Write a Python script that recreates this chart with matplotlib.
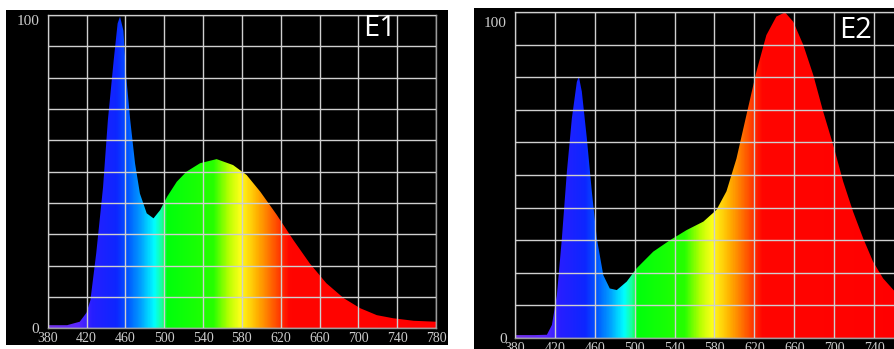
import matplotlib.pyplot as plt
import numpy as np
from matplotlib.colors import LinearSegmentedColormap
from matplotlib.patches import Rectangle
from matplotlib.transforms import ScaledTranslation

# wavelength (nm) / relative intensity
e1_wl = [380, 400, 413, 420, 424, 430, 437, 442, 448, 452, 454.5, 458, 461, 465, 470, 475, 482, 489,
         496, 503, 513, 523, 537, 554, 571, 585, 599, 616, 633, 650, 667, 685, 702, 719, 736, 757, 780]
e1_val = [1, 1, 2.1, 5, 9, 24, 45, 66.5, 85.6, 97.3, 99.5, 95, 80, 66.5, 52.6, 43, 36.7, 35.1,
          37.8, 42, 46.8, 50, 52.7, 54, 52.1, 48.9, 43.6, 36.2, 28.2, 20.7, 14.4, 9.6, 6.4, 4.2, 3.2, 2.4, 2.1]

e2_wl = [380, 400, 412, 417, 422, 427, 432, 437, 442, 444, 447, 452, 457, 462, 468.5, 475, 482, 492,
         502, 518.6, 535.4, 552, 568.8, 582, 592, 602, 612, 622, 632, 642, 650.7, 659, 669, 679,
         689, 699, 709, 719, 729, 739, 749, 761, 780]
e2_val = [0.9, 0.9, 1.0, 4, 13.2, 30.6, 51, 67.4, 78.6, 80.2, 75.6, 61.3, 45, 30.6, 19.3, 15.2, 14.7, 17.3,
          21.4, 26.5, 30, 33.1, 35.7, 39.3, 45, 55, 68.4, 81.7, 92.9, 98.6, 99.9, 97, 89.9, 80.7,
          69.4, 59.2, 48, 38.7, 30.6, 23.4, 18.3, 14.2, 8]

x_ticks = [380, 420, 460, 500, 540, 580, 620, 660, 700, 740, 780]
labels = ["E1", "E2"]

# colour of the light at each wavelength
stop_wl = [380, 410, 425, 450, 462, 476, 489, 497, 502, 550, 565, 578, 595, 610, 628, 780]
stop_rgb = [(0.45, 0.2, 0.9), (0.35, 0.15, 1.0), (0.15, 0.12, 1.0), (0.05, 0.15, 1.0), (0.0, 0.35, 1.0),
            (0.0, 0.65, 1.0), (0.0, 1.0, 1.0), (0.1, 1.0, 0.6), (0.0, 1.0, 0.05), (0.15, 1.0, 0.0),
            (0.7, 1.0, 0.0), (1.0, 1.0, 0.1), (1.0, 0.7, 0.0), (1.0, 0.4, 0.0), (1.0, 0.02, 0.0),
            (1.0, 0.0, 0.0)]
spec_cmap = LinearSegmentedColormap.from_list(
    "spec", [((w - 380) / 400, c) for w, c in zip(stop_wl, stop_rgb)])

W, H = 895, 349
fig = plt.figure(figsize=(W / 100, H / 100), dpi=100)
fig.patch.set_facecolor("white")

# black panels behind each chart (pixels from top-left)
for x0, y0, x1, y1 in [(6, 10, 448, 345), (474, 8, 900, 352)]:
    fig.patches.append(Rectangle((x0 / W, 1 - y1 / H), (x1 - x0) / W, (y1 - y0) / H,
                                 transform=fig.transFigure, facecolor="black", edgecolor="none", zorder=-5))


def draw_panel(rect, wl, val, label, label_xy, top_shift):
    l, t, r, b = rect
    ax = fig.add_axes([l / W, 1 - b / H, (r - l) / W, (b - t) / H])
    ax.set_facecolor("black")
    ax.set_xlim(380, 780)
    ax.set_ylim(0, 100)
    poly = ax.fill_between(wl, 0, val, facecolor="none", edgecolor="none")
    grad = np.linspace(380, 780, 800).reshape(1, -1)
    im = ax.imshow(grad, extent=[380, 780, 0, 100], aspect="auto", cmap=spec_cmap,
                   vmin=380, vmax=780, origin="lower", zorder=1)
    clip = poly.get_paths()[0]
    im.set_clip_path(clip, transform=ax.transData)
    ax.set_xticks(x_ticks)
    ax.set_yticks(np.arange(0, 101, 10))
    ax.set_yticklabels(["0"] + [""] * 9 + ["100"])
    ax.set_axisbelow(False)
    ax.grid(True, color="#cfcfcf", linewidth=1.0)
    for s in ax.spines.values():
        s.set_color("#9a9a9a")
        s.set_linewidth(1.0)
    ax.tick_params(length=0, pad=3, labelsize=10, labelcolor="#cccccc")
    ax.tick_params(axis="y", pad=6, labelsize=11)
    for t_ in ax.get_xticklabels() + ax.get_yticklabels():
        t_.set_fontfamily("Liberation Serif")
    # "100" sits a little below the top line in the original
    top = ax.get_yticklabels()[-1]
    top.set_transform(top.get_transform() + ScaledTranslation(0, -top_shift / 100, fig.dpi_scale_trans))
    fig.text(label_xy[0] / W, 1 - label_xy[1] / H, label, color="white", fontsize=21,
             family="Open Sans", ha="center", va="center")
    return ax


draw_panel((47.7, 15, 436, 328.3), e1_wl, e1_val, labels[0], (380, 28), 5)
draw_panel((515, 12, 914, 338), e2_wl, e2_val, labels[1], (856, 31), 10)

fig.savefig("out.png", dpi=100)
